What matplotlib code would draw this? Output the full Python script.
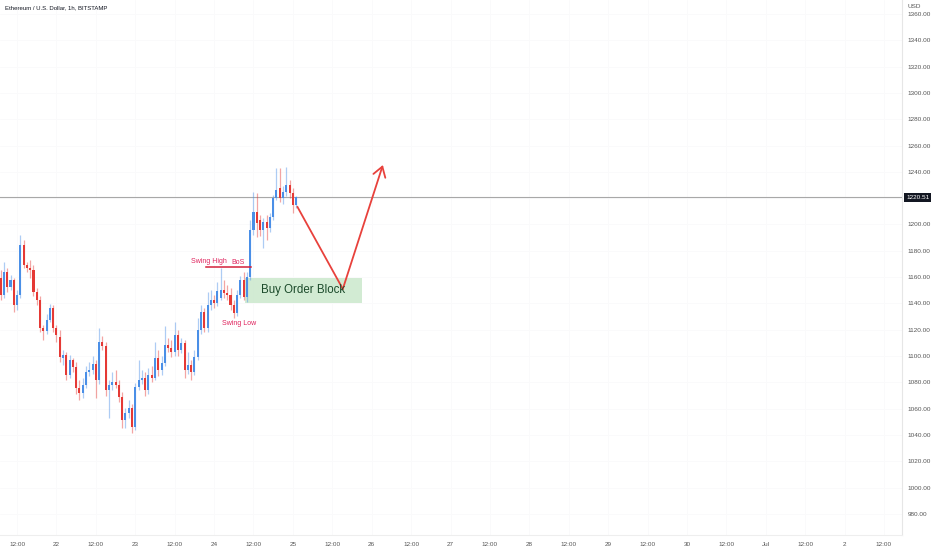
import matplotlib
matplotlib.use("Agg")
import matplotlib.pyplot as plt
import numpy as np

# hourly candles, hour index counted from 21 Jun 00:00
start_hour = 7
opens = [1159.3, 1146.4, 1163.9, 1152.5, 1157.8, 1138.8, 1146.4, 1184.4, 1169.2, 1166.9,
         1165.4, 1148.7, 1142.6, 1121.3, 1119.0, 1127.4, 1136.5, 1121.3, 1114.5, 1098.5,
         1100.8, 1085.6, 1097.0, 1091.7, 1075.7, 1071.9, 1078.0, 1087.9, 1089.4, 1094.0,
         1081.8, 1110.7, 1107.6, 1074.2, 1078.0, 1080.3, 1078.0, 1068.9, 1051.4, 1056.7,
         1060.5, 1046.1, 1076.5, 1081.8, 1083.3, 1074.2, 1085.6, 1083.3, 1098.5, 1089.4,
         1094.7, 1108.4, 1106.1, 1103.1, 1116.0, 1104.6, 1109.9, 1089.4, 1093.2, 1087.9,
         1099.3, 1119.8, 1133.5, 1121.3, 1138.8, 1142.6, 1140.3, 1144.1, 1150.2, 1147.9,
         1146.4, 1138.8, 1132.7, 1146.4, 1157.8, 1144.9, 1160.1, 1195.8, 1209.5, 1203.4,
         1195.8, 1201.9, 1197.3, 1205.7, 1220.1, 1227.7, 1220.1, 1224.7, 1230.0, 1223.9,
         1214.8]
highs = [1165.4, 1171.5, 1166.9, 1161.6, 1159.3, 1150.2, 1192.0, 1188.2, 1171.5, 1173.0,
         1169.2, 1151.7, 1145.6, 1123.6, 1132.0, 1139.6, 1138.8, 1123.6, 1119.8, 1104.6,
         1103.1, 1100.8, 1098.5, 1095.5, 1081.8, 1083.3, 1092.4, 1095.5, 1100.0, 1097.0,
         1121.3, 1115.2, 1110.7, 1081.8, 1087.9, 1089.4, 1081.8, 1072.7, 1060.5, 1066.6,
         1063.6, 1079.5, 1097.0, 1089.4, 1087.9, 1090.9, 1092.4, 1110.7, 1104.6, 1100.0,
         1122.8, 1113.7, 1112.2, 1125.9, 1119.8, 1113.7, 1112.2, 1103.1, 1097.0, 1104.6,
         1128.9, 1138.8, 1136.5, 1148.7, 1150.2, 1146.4, 1156.3, 1166.9, 1157.8, 1154.0,
         1151.7, 1142.6, 1150.2, 1160.8, 1163.9, 1163.9, 1203.4, 1224.7, 1223.9, 1207.2,
         1204.9, 1207.2, 1208.7, 1222.4, 1242.9, 1242.9, 1229.2, 1243.7, 1233.8, 1227.7,
         1221.6]
lows = [1142.6, 1144.1, 1148.7, 1150.2, 1133.5, 1135.0, 1144.1, 1166.9, 1163.9, 1159.3,
        1145.6, 1138.8, 1118.3, 1112.2, 1116.8, 1125.9, 1118.3, 1110.7, 1095.5, 1093.2,
        1081.8, 1083.3, 1087.9, 1071.2, 1066.6, 1068.1, 1075.7, 1084.8, 1086.4, 1068.1,
        1078.8, 1104.6, 1069.6, 1052.9, 1074.2, 1075.7, 1065.1, 1045.3, 1045.3, 1052.9,
        1041.5, 1043.8, 1074.2, 1078.8, 1069.6, 1071.2, 1080.3, 1081.8, 1084.8, 1085.6,
        1092.4, 1103.1, 1099.3, 1100.0, 1100.0, 1102.3, 1083.3, 1086.4, 1081.8, 1085.6,
        1097.0, 1116.8, 1118.3, 1118.3, 1135.0, 1136.5, 1138.0, 1142.6, 1144.1, 1142.6,
        1135.0, 1128.9, 1130.4, 1144.1, 1142.6, 1141.1, 1157.8, 1192.0, 1190.5, 1191.2,
        1182.1, 1188.2, 1194.3, 1203.4, 1218.6, 1217.1, 1215.6, 1221.6, 1220.1, 1208.7,
        1212.5]
closes = [1146.4, 1163.9, 1152.5, 1157.8, 1138.8, 1146.4, 1184.4, 1169.2, 1166.9, 1165.4,
          1148.7, 1142.6, 1121.3, 1119.0, 1127.4, 1136.5, 1121.3, 1116.0, 1099.3, 1100.8,
          1085.6, 1097.0, 1091.7, 1075.7, 1071.9, 1078.0, 1087.9, 1089.4, 1094.0, 1081.8,
          1110.7, 1107.6, 1074.2, 1078.0, 1080.3, 1078.0, 1068.9, 1051.4, 1056.7, 1060.5,
          1046.1, 1076.5, 1081.8, 1083.3, 1074.2, 1085.6, 1083.3, 1098.5, 1089.4, 1094.7,
          1108.4, 1106.1, 1103.1, 1116.0, 1104.6, 1109.9, 1089.4, 1093.2, 1087.9, 1099.3,
          1119.8, 1133.5, 1121.3, 1138.8, 1142.6, 1140.3, 1149.4, 1150.2, 1147.9, 1146.4,
          1138.8, 1132.7, 1146.4, 1157.8, 1144.9, 1160.1, 1195.8, 1209.5, 1201.1, 1195.8,
          1201.9, 1197.3, 1205.7, 1220.1, 1226.2, 1220.1, 1224.7, 1230.0, 1223.9, 1214.8,
          1220.51]

last_price = 1220.51
y_ticks = list(range(980, 1361, 20))
x_tick_hours = list(range(12, 277, 12))
x_tick_labels = ["12:00", "22", "12:00", "23", "12:00", "24", "12:00", "25", "12:00", "26",
                 "12:00", "27", "12:00", "28", "12:00", "29", "12:00", "30", "12:00", "Jul",
                 "12:00", "2", "12:00"]

# annotation levels
swing_high = 1167.7
swing_high_span = (69.4, 83.1)
block_top, block_bottom = 1159.3, 1140.3
block_span = (81.3, 117.0)
path_hours = [97.4, 111.2, 123.4]
path_prices = [1213.3, 1151.0, 1245.2]

up_col = "#4a8fe7"
down_col = "#e53935"
red = "#e8413c"
pink = "#e0245e"

plt.rcParams["font.family"] = ["Liberation Sans", "DejaVu Sans"]
fig = plt.figure(figsize=(9.32, 5.5), dpi=100)
ax = fig.add_axes([0, 15 / 550, 902 / 932, 535 / 550])

hours = np.arange(start_hour, start_hour + len(closes))
o = np.array(opens)
c = np.array(closes)
cols = [up_col if cc >= oo else down_col for oo, cc in zip(o, c)]

ax.vlines(hours, lows, highs, colors=cols, linewidth=0.9, alpha=0.45, zorder=2)
ax.bar(hours, np.abs(c - o) + 0.4, bottom=np.minimum(o, c) - 0.2, width=0.62,
       color=cols, linewidth=0, zorder=3)

# last price line
ax.axhline(last_price, color="#a8a8a8", linewidth=0.8, zorder=1)

# buy order block
ax.fill_between(block_span, block_bottom, block_top, color="#cde9cf", alpha=0.9,
                linewidth=0, zorder=1)
ax.text(sum(block_span) / 2, (block_top + block_bottom) / 2 + 0.5, "Buy Order Block",
        ha="center", va="center", fontsize=8.3, color="#1b4a2a", zorder=5)

# swing high / BoS line
ax.plot(swing_high_span, [swing_high, swing_high], color="#d3203a", linewidth=1.1, zorder=4)
ax.text(70.3, swing_high + 3.8, "Swing High", fontsize=5.0, color=pink, ha="center", va="center")
ax.text(79.2, swing_high + 3.4, "BoS", fontsize=5.0, color=pink, ha="center", va="center")
ax.text(79.7, 1124.5, "Swing Low", fontsize=5.0, color=pink, ha="center", va="center")

# projected move
ax.plot(path_hours[:2], path_prices[:2], color=red, linewidth=1.3, zorder=4)
ax.annotate("", xy=(path_hours[2], path_prices[2]), xytext=(path_hours[1], path_prices[1]),
            arrowprops=dict(arrowstyle="->,head_length=0.7,head_width=0.45", color=red,
                            lw=1.3, shrinkA=0, shrinkB=0), zorder=4)

ax.set_xlim(6.8, 281.5)
ax.set_ylim(964.0, 1370.6)

ax.yaxis.tick_right()
ax.set_yticks(y_ticks)
ax.set_yticklabels([f"{v:.2f}" for v in y_ticks])
ax.set_xticks(x_tick_hours)
ax.set_xticklabels(x_tick_labels)
ax.tick_params(axis="both", length=0, labelsize=4.6, colors="#555555")
ax.tick_params(axis="y", pad=4)
ax.tick_params(axis="x", pad=5)
for lab in ax.get_yticklabels():
    lab.set_horizontalalignment("left")
ax.grid(color="#fafafb", linewidth=0.6)
ax.set_axisbelow(True)
for s in ["top", "left"]:
    ax.spines[s].set_visible(False)
ax.spines["right"].set_color("#e6e6e6")
ax.spines["bottom"].set_color("#eeeeee")

ax.text(1.0045, last_price, f"{last_price:.2f}", transform=ax.get_yaxis_transform(),
        fontsize=4.6, color="white", va="center", ha="left",
        bbox=dict(boxstyle="square,pad=0.3", fc="#131722", ec="none"))

fig.text(5 / 932, 1 - 8 / 550, "Ethereum / U.S. Dollar, 1h, BITSTAMP", fontsize=4.3,
         color="#131722", va="center", ha="left")
fig.text(907 / 932, 1 - 7 / 550, "USD", fontsize=4.6, color="#555555", va="center", ha="left")

fig.savefig("out.png", dpi=100, facecolor="white")
